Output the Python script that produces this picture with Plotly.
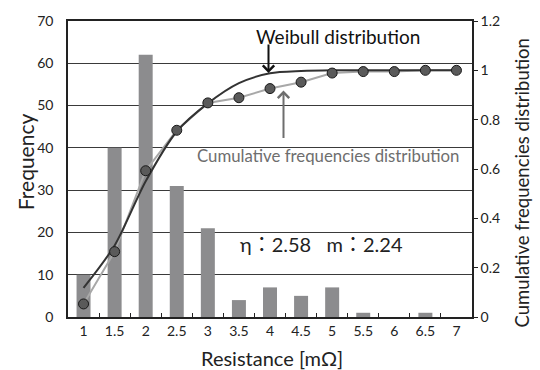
import plotly.graph_objects as go

categories = ["1", "1.5", "2", "2.5", "3", "3.5", "4", "4.5", "5", "5.5", "6", "6.5", "7"]
frequency = [10, 40, 62, 31, 21, 4, 7, 5, 7, 1, 0, 1, 0]
cumulative = [0.053, 0.265, 0.593, 0.757, 0.868, 0.889, 0.926, 0.952, 0.989, 0.995, 0.995, 1.0, 1.0]
weibull = [0.118, 0.29, 0.55, 0.752, 0.866, 0.948, 0.988, 0.997, 1.0, 1.0, 1.0, 1.0, 1.0]
freq_ticks = [0, 10, 20, 30, 40, 50, 60, 70]
eta, m = 2.58, 2.24

FONT = "Lato, 'Noto Sans CJK JP', sans-serif"
L, R, T, B = 68, 68, 15, 53
W, H = 540, 370
PW, PH = W - L - R, H - T - B

def px(x):
    return (x - L) / PW

def py(y):
    return 1 - (y - T) / PH

fig = go.Figure()
fig.add_trace(go.Bar(x=categories, y=frequency, marker=dict(color="#8c8c8e", line=dict(width=0)),
                     yaxis="y", showlegend=False))
fig.add_trace(go.Scatter(x=categories, y=cumulative, yaxis="y2", mode="lines",
                         line=dict(color="#a8a8a8", width=2), showlegend=False))
fig.add_trace(go.Scatter(x=categories, y=weibull, yaxis="y2", mode="lines",
                         line=dict(color="#333333", width=2, shape="spline", smoothing=0.8),
                         showlegend=False))
fig.add_trace(go.Scatter(x=categories, y=cumulative, yaxis="y2", mode="markers",
                         marker=dict(color="#5a5a5a", size=10, line=dict(color="#1a1a1a", width=1)),
                         showlegend=False))

fig.update_layout(
    width=W, height=H,
    margin=dict(l=L, r=R, t=T, b=B),
    paper_bgcolor="white", plot_bgcolor="white",
    bargap=0.55,
    font=dict(family=FONT, color="#222222"),
    xaxis=dict(type="category", range=[-0.5, 12.5], showline=True, linecolor="#222222", linewidth=1.5,
               mirror=True, ticks="inside", ticklen=4, tickcolor="#222222", tickson="boundaries",
               tickwidth=1.3, tickfont=dict(size=14, family=FONT), showgrid=False),
    yaxis=dict(range=[0, 70], tickvals=freq_ticks, showline=True, linecolor="#222222", linewidth=1.5,
               showgrid=True, gridcolor="#3a3a3a", gridwidth=1.4, zeroline=False,
               ticks="outside", ticklen=10, tickcolor="rgba(0,0,0,0)",
               tickfont=dict(size=14, family=FONT)),
    yaxis2=dict(range=[0, 1.2], dtick=0.2, tick0=0, overlaying="y", side="right", showline=True,
                linecolor="#222222", linewidth=1.5, showgrid=False, zeroline=False,
                ticks="outside", ticklen=4, tickwidth=1.3, tickcolor="#222222", tickformat="~g",
                tickfont=dict(size=14, family=FONT)),
)

ann = [
    dict(text="Frequency", x=px(25), y=py(159), textangle=-90, font=dict(size=21)),
    dict(text="Resistance [mΩ]", x=px(271.7), y=py(359), font=dict(size=20)),
    dict(text="Cumulative frequencies distribution", x=px(521.7), y=py(180), textangle=-90,
         font=dict(size=18.5)),
    dict(text="Weibull distribution", x=px(337.5), y=py(31), font=dict(size=19, color="#111111")),
    dict(text="Cumulative frequencies distribution", x=px(327.5), y=py(152),
         font=dict(size=16.8, color="#6e6e6e")),
    dict(text=f"η：{eta}   m：{m}", x=px(321.7), y=py(243), font=dict(size=20, color="#222222")),
]
for a in ann:
    fig.add_annotation(xref="paper", yref="paper", showarrow=False, xanchor="center",
                       yanchor="middle", **a)

fig.add_annotation(xref="paper", yref="paper", x=px(268.5), y=py(68), ax=0, ay=-30,
                   text="", showarrow=True, arrowhead=4, arrowsize=1.1, arrowwidth=2,
                   arrowcolor="#111111")
fig.add_annotation(xref="paper", yref="paper", x=px(283.5), y=py(86), ax=0, ay=49,
                   text="", showarrow=True, arrowhead=4, arrowsize=1.1, arrowwidth=2,
                   arrowcolor="#6e6e6e")

fig.write_html("out.html")
